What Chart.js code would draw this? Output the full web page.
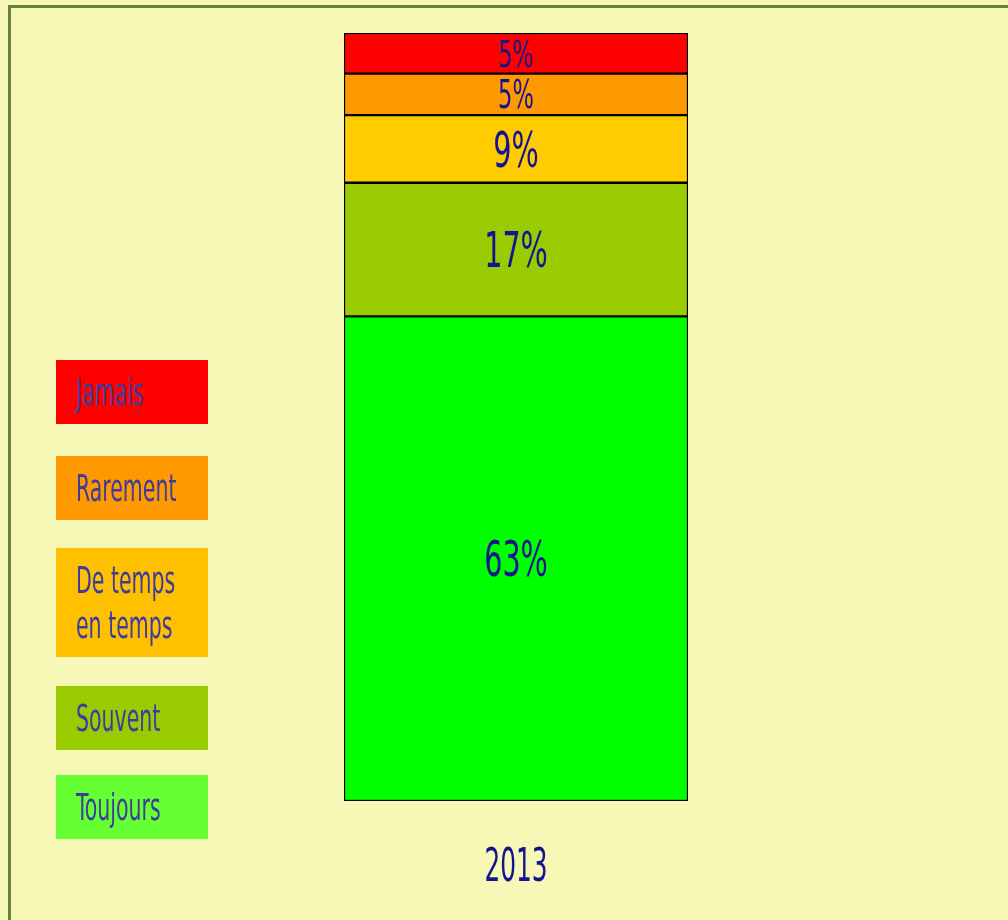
<!DOCTYPE html>
<html>
<head>
<meta charset="utf-8">
<script src="https://cdn.jsdelivr.net/npm/chart.js@4"></script>
<style>
  html, body { margin: 0; padding: 0; background: #f7f7b6; overflow: hidden; }
  #wrap { position: relative; width: 1008px; height: 920px; }
  #frame { position: absolute; left: 8px; top: 5px; width: 1100px; height: 1000px;
    border-left: 3px solid #64843a; border-top: 3px solid #64843a; }
  #c { position: absolute; left: 0; top: 0; }
  .item { position: absolute; left: 56px; width: 152px; box-sizing: border-box; padding: 9.5px 0 9.5px 20px;
    font-family: 'Liberation Sans Narrow', 'DejaVu Sans Condensed', sans-serif; font-size: 38px;
    line-height: 45px; color: #3c3c9e; white-space: nowrap; }
  .item span { display: inline-block; transform: scaleX(0.6); transform-origin: left center; }
</style>
</head>
<body>
<div id="wrap">
  <div id="frame"></div>
  <canvas id="c" width="1008" height="920"></canvas>
  <div id="legend"></div>
</div>
<script>
// données
const categories = ['2013'];
const seriesNames = ['Toujours', 'Souvent', 'De temps en temps', 'Rarement', 'Jamais'];
const seriesValues = [[63.1], [17.4], [8.8], [5.4], [5.3]];
const legendLines = [['Toujours'], ['Souvent'], ['De temps', 'en temps'], ['Rarement'], ['Jamais']];

const barColors = ['#00ff00', '#99cc00', '#ffcc00', '#ff9900', '#ff0000'];
const legendColors = ['#66ff33', '#99cc00', '#ffc000', '#ff9900', '#ff0000'];
const legendTops = [775, 686, 548, 456, 360];
const fontName = "'Liberation Sans Narrow', 'DejaVu Sans Condensed', sans-serif";

// légende à gauche (Jamais en haut)
const legend = document.getElementById('legend');
for (let i = seriesNames.length - 1; i >= 0; i--) {
  const div = document.createElement('div');
  div.className = 'item';
  div.style.top = legendTops[i] + 'px';
  div.style.background = legendColors[i];
  div.innerHTML = legendLines[i].map(l => `<span>${l}</span>`).join('<br>');
  legend.appendChild(div);
}

const segLabels = {
  id: 'segLabels',
  afterDatasetsDraw(chart) {
    const ctx = chart.ctx;
    chart.data.datasets.forEach((ds, i) => {
      const meta = chart.getDatasetMeta(i);
      meta.data.forEach((bar, j) => {
        const h = Math.abs(bar.base - bar.y);
        const size = Math.min(49, h * 0.93);
        ctx.save();
        ctx.translate(bar.x, (bar.y + bar.base) / 2 + size * 0.1);
        ctx.scale(0.65, 1);
        ctx.font = size + 'px ' + fontName;
        ctx.fillStyle = '#141490';
        ctx.textAlign = 'center';
        ctx.textBaseline = 'middle';
        ctx.fillText(Math.round(ds.data[j]) + '%', 0, 0);
        ctx.restore();
      });
    });
    // étiquettes de catégorie sous la barre
    const xs = chart.scales.x;
    categories.forEach((c, k) => {
      ctx.save();
      ctx.translate(xs.getPixelForValue(k), chart.chartArea.bottom + 68);
      ctx.scale(0.6, 1);
      ctx.font = '46px ' + fontName;
      ctx.fillStyle = '#141490';
      ctx.textAlign = 'center';
      ctx.textBaseline = 'middle';
      ctx.fillText(c, 0, 0);
      ctx.restore();
    });
  }
};

new Chart(document.getElementById('c'), {
  type: 'bar',
  data: {
    labels: categories,
    datasets: seriesNames.map((name, i) => ({
      label: name,
      data: seriesValues[i],
      backgroundColor: barColors[i],
      borderColor: '#000000',
      borderWidth: 1.5,
      borderSkipped: false,
      barPercentage: 1,
      categoryPercentage: 1
    }))
  },
  options: {
    responsive: false,
    animation: false,
    layout: { padding: { left: 344, right: 320, top: 33, bottom: 119 } },
    plugins: { legend: { display: false }, tooltip: { enabled: false } },
    scales: {
      x: { stacked: true, display: false },
      y: { stacked: true, display: false, min: 0, max: 100 }
    }
  },
  plugins: [segLabels]
});
</script>
</body>
</html>
